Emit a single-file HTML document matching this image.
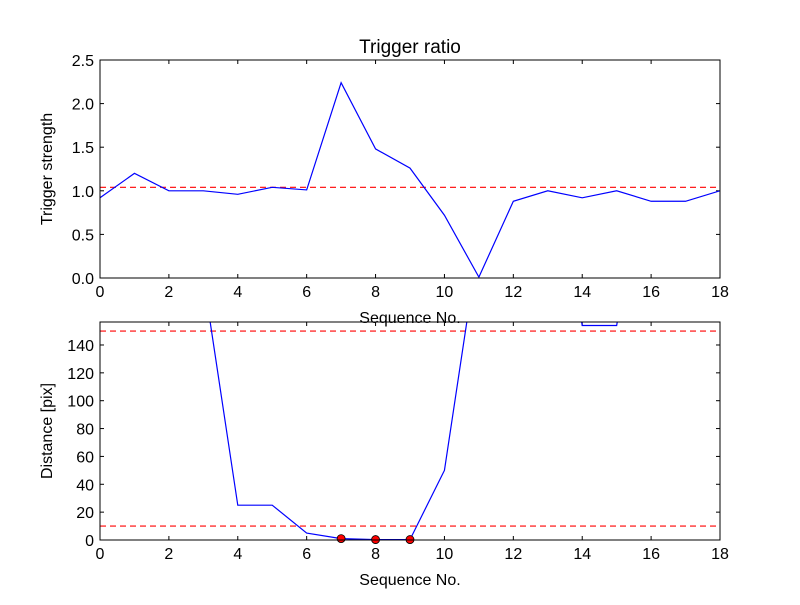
<!DOCTYPE html>
<html><head><meta charset="utf-8"><style>body{margin:0;background:#fff}svg{font-family:"Liberation Sans","DejaVu Sans",sans-serif}</style></head>
<body>
<svg id="c" width="800" height="600" xmlns="http://www.w3.org/2000/svg">
<rect width="800" height="600" fill="#fff"/>
<defs>
<clipPath id="clipT"><rect x="100" y="60" width="620" height="218"/></clipPath>
<clipPath id="clipB"><rect x="100" y="322" width="620" height="218"/></clipPath>
</defs>
</svg>
<script>
const seq=[0,1,2,3,4,5,6,7,8,9,10,11,12,13,14,15,16,17,18];
const ratio=[0.92,1.2,1.0,1.0,0.96,1.04,1.01,2.24,1.48,1.26,0.72,0.01,0.88,1.0,0.92,1.0,0.88,0.88,1.0];
const ratioThreshold=1.04;
const distance=[300,300,300,189,25,25,5,1,0.3,0.3,50,214,300,300,154,154,300,300,300];
const matchSeq=[7,8,9];
const matchDist=[1,0.3,0.3];
const distThresholds=[150,10];
const xTicks=[0,2,4,6,8,10,12,14,16,18];
const yTicksTop=[0,0.5,1.0,1.5,2.0,2.5];
const yTicksBot=[0,20,40,60,80,100,120,140];

const svg=document.getElementById('c');const NS='http://www.w3.org/2000/svg';
function mk(t,a,p){const e=document.createElementNS(NS,t);for(const k in a)e.setAttribute(k,a[k]);(p||svg).appendChild(e);return e;}
const L=100,R=720;
const xs=v=>L+(v-0)/(18-0)*(R-L);
function panel(top,bot,ymax,yt,name,ylabel,fmt){
  const ys=v=>bot-(v/ymax)*(bot-top);
  const g=mk('g',{});
  
  
  xTicks.forEach(t=>{const x=xs(t);
    mk('line',{x1:x,x2:x,y1:bot,y2:bot-4,stroke:'#000'},g);mk('line',{x1:x,x2:x,y1:top,y2:top+4,stroke:'#000'},g);
    const tx=mk('text',{x:x,y:bot+19,'text-anchor':'middle','font-size':16},g);tx.textContent=t;
    
    });
  yt.forEach(t=>{const y=ys(t);
    mk('line',{x1:L,x2:L+4,y1:y,y2:y,stroke:'#000'},g);mk('line',{x1:R,x2:R-4,y1:y,y2:y,stroke:'#000'},g);
    const tx=mk('text',{x:L-6,y:y+6,'text-anchor':'end','font-size':16},g);tx.textContent=fmt(t);
    
    });
  const yl=mk('text',{x:0,y:0,'text-anchor':'middle','font-size':16,transform:`translate(${L-48},${(top+bot)/2}) rotate(-90)`},g);yl.textContent=ylabel;
  
  
  const xl=mk('text',{x:(L+R)/2,y:bot+45,'text-anchor':'middle','font-size':16},g);xl.textContent='Sequence No.';
  
  
  return {g,ys};
}
const T=panel(60,278,2.5,yTicksTop,'trigger-ratio-panel','Trigger strength',v=>v.toFixed(1));
const B=panel(322,540,156.5,yTicksBot,'distance-panel','Distance [pix]',v=>String(v));
const title=mk('text',{x:410,y:53,'text-anchor':'middle','font-size':19});title.textContent='Trigger ratio';


// top series
const gt=mk('g',{'clip-path':'url(#clipT)'});
const th=mk('line',{x1:L,x2:R,y1:T.ys(ratioThreshold),y2:T.ys(ratioThreshold),stroke:'red','stroke-dasharray':'6,4','stroke-width':1.2},gt);


const pl=mk('polyline',{points:seq.map((s,i)=>xs(s)+','+T.ys(ratio[i])).join(' '),fill:'none',stroke:'blue','stroke-width':1.2},gt);


// bottom series
const gb=mk('g',{'clip-path':'url(#clipB)'});
distThresholds.forEach(v=>{const l=mk('line',{x1:L,x2:R,y1:B.ys(v),y2:B.ys(v),stroke:'red','stroke-dasharray':'6,4','stroke-width':1.2},gb);
  
  });
const pb=mk('polyline',{points:seq.map((s,i)=>xs(s)+','+B.ys(distance[i])).join(' '),fill:'none',stroke:'blue','stroke-width':1.2},gb);


matchSeq.forEach((s,i)=>{const c=mk('circle',{cx:xs(s),cy:B.ys(matchDist[i]),r:4,fill:'red',stroke:'#000','stroke-width':0.8});
  
  });
[[60,278],[322,540]].forEach(([a,b])=>{const r=mk('rect',{x:L,y:a,width:R-L,height:b-a,fill:'none',stroke:'#000','stroke-width':1});
  
  });
</script>
</body></html>
